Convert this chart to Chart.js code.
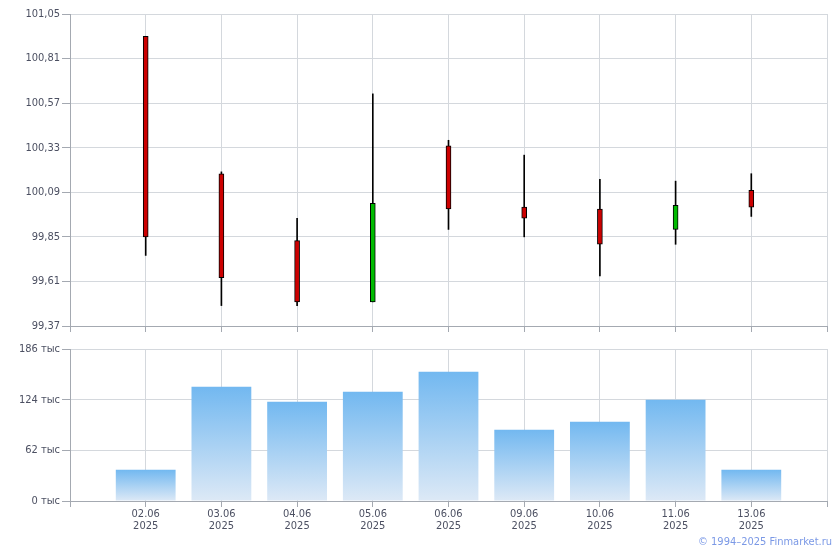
<!DOCTYPE html>
<html>
<head>
<meta charset="utf-8">
<script src="https://cdn.jsdelivr.net/npm/chart.js@4/dist/chart.umd.min.js"></script>
<style>
  body { margin: 0; background: #fff; }
  #wrap { position: relative; width: 840px; height: 550px; }
  #priceChart { position: absolute; left: 0; top: 0; }
  #volChart { position: absolute; left: 0; top: 340px; }
  #copy {
    position: absolute; right: 8px; top: 535px;
    font: 11px "DejaVu Sans Condensed", "DejaVu Sans", sans-serif;
    color: #7b99e6;
  }
</style>
</head>
<body>
<div id="wrap">
  <canvas id="priceChart" width="840" height="340"></canvas>
  <canvas id="volChart" width="840" height="210"></canvas>
  <div id="copy">© 1994–2025 Finmarket.ru</div>
</div>
<script>
const dates = ['02.06', '03.06', '04.06', '05.06', '06.06', '09.06', '10.06', '11.06', '13.06'];
const year = '2025';

const opens  = [100.93, 100.19, 99.83, 99.50, 100.34, 100.01, 100.00, 99.89, 100.10];
const highs  = [100.93, 100.20, 99.95, 100.62, 100.37, 100.29, 100.16, 100.15, 100.19];
const lows   = [99.75, 99.48, 99.48, 99.50, 99.89, 99.85, 99.64, 99.81, 99.96];
const closes = [99.85, 99.63, 99.50, 100.03, 100.00, 99.95, 99.81, 100.02, 100.01];

const volumes = [38300, 139900, 121500, 133800, 158300, 87300, 97100, 124000, 38300];

const priceTicks = [99.37, 99.61, 99.85, 100.09, 100.33, 100.57, 100.81, 101.05];
const volTicks = [0, 62000, 124000, 186000];

const FONT = { family: '"DejaVu Sans Condensed", "DejaVu Sans", sans-serif', size: 11, lineHeight: 1.1 };
const TEXT = '#4c5062';
const GRID = '#d4d8dd';
const AXIS = '#a4a9b1';

// shared x axis: linear index scale with one empty slot at each end
function xAxis(showLabels, height) {
    return {
        type: 'linear',
        min: -1,
        max: dates.length,
        offset: false,
        grid: { color: GRID, tickColor: AXIS, tickLength: 6, offset: false },
        border: { color: AXIS },
        ticks: {
            display: showLabels,
            stepSize: 1,
            autoSkip: false,
            maxRotation: 0,
            padding: 1,
            color: TEXT,
            font: FONT,
            callback: (v) => (v >= 0 && v < dates.length) ? [dates[v], year] : ''
        },
        afterFit: (s) => { s.height = height; }
    };
}

function yAxis(min, max, tickList, fmt) {
    return {
        min: min,
        max: max,
        afterBuildTicks: (s) => { s.ticks = tickList.map(v => ({ value: v })); },
        grid: { color: GRID, tickColor: AXIS, tickLength: 8 },
        border: { color: AXIS },
        ticks: { color: TEXT, font: FONT, padding: 2, callback: fmt },
        afterFit: (s) => { s.width = 70; }
    };
}

// 1. Candles: body + wick as floating bars
const bodyColors = opens.map((o, i) => closes[i] >= o ? '#00bb00' : '#cc0000');

new Chart(document.getElementById('priceChart'), {
    type: 'bar',
    data: {
        datasets: [
            {
                data: dates.map((d, i) => ({ x: i, y: [opens[i], closes[i]] })),
                backgroundColor: bodyColors,
                borderColor: '#000',
                borderWidth: 1,
                borderSkipped: false,
                barThickness: 5,
                grouped: false
            },
            {
                data: dates.map((d, i) => ({ x: i, y: [lows[i], highs[i]] })),
                backgroundColor: '#000',
                borderWidth: 0,
                barThickness: 1,
                grouped: false
            }
        ]
    },
    options: {
        responsive: false,
        animation: false,
        layout: { padding: { top: 14, right: 13, left: 0, bottom: 0 } },
        plugins: { legend: { display: false }, tooltip: { enabled: false } },
        scales: {
            x: xAxis(false, 14),
            y: yAxis(99.37, 101.05, priceTicks, (v) => v.toFixed(2).replace('.', ','))
        }
    }
});

// 2. Volume bars with vertical gradient per bar
new Chart(document.getElementById('volChart'), {
    type: 'bar',
    data: {
        datasets: [{
            data: dates.map((d, i) => ({ x: i, y: volumes[i] })),
            backgroundColor: (ctx) => {
                const chart = ctx.chart;
                const ys = chart.scales.y;
                if (!ys || !ctx.parsed) return '#9cc9f2';
                const top = ys.getPixelForValue(ctx.parsed.y);
                const bottom = ys.getPixelForValue(0);
                if (!isFinite(top) || !isFinite(bottom) || top === bottom) return '#9cc9f2';
                const g = chart.ctx.createLinearGradient(0, top, 0, bottom);
                g.addColorStop(0, '#72b8f0');
                g.addColorStop(1, '#dde9f6');
                return g;
            },
            borderWidth: 0,
            categoryPercentage: 1,
            barPercentage: 0.79
        }]
    },
    options: {
        responsive: false,
        animation: false,
        layout: { padding: { top: 9, right: 13, left: 0, bottom: 0 } },
        plugins: { legend: { display: false }, tooltip: { enabled: false } },
        scales: {
            x: xAxis(true, 49),
            y: yAxis(0, 186000, volTicks, (v) => (v / 1000) + ' тыс')
        }
    }
});
</script>
</body>
</html>
